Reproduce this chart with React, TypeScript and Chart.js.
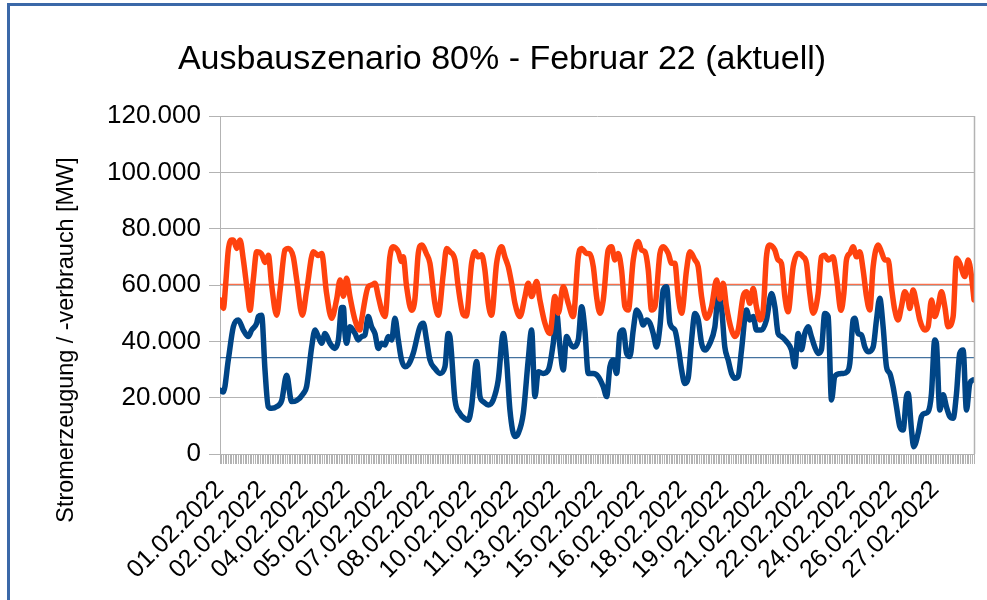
import React, { useEffect, useRef } from 'react';
import { Chart, registerables } from 'chart.js';

Chart.register(...registerables);

const CHART_TITLE = 'Ausbauszenario 80% - Februar 22 (aktuell)';
const Y_AXIS_TITLE = 'Stromerzeugung / -verbrauch [MW]';

// x axis: hours since 01.02.2022 00:00 (28 days)
const PERIOD_START_HOUR = 0;
const PERIOD_END_HOUR = 672;
const X_LABEL_STEP_HOURS = 37.5;
const X_MINOR_STEP_HOURS = 1.5;
const xTickLabels = [
  '01.02.2022', '02.02.2022', '04.02.2022', '05.02.2022', '07.02.2022', '08.02.2022',
  '10.02.2022', '11.02.2022', '13.02.2022', '15.02.2022', '16.02.2022', '18.02.2022',
  '19.02.2022', '21.02.2022', '22.02.2022', '24.02.2022', '26.02.2022', '27.02.2022',
];

// y axis
const Y_MIN = 0;
const Y_MAX = 120000;
const Y_STEP = 20000;

// Stromerzeugung (blue)
const generationHours = [
  0, 3, 7.4, 11.9, 16.3, 20.8, 25.2, 28.2, 32.7, 34.2, 37.1, 40.1, 43, 46, 50.5, 55, 59.4, 63.8, 68.3, 74.3,
  77.2, 81.7, 84.7, 87.6, 90.6, 93.6, 98, 102.5, 105.5, 108.4, 110, 111.4, 112.8, 115.8, 120.3, 123.2, 126.2, 129.2, 132.1, 135.1,
  138.1, 141.1, 144, 147, 150, 153, 155.9, 158.9, 161.8, 164.8, 167.8, 172.2, 178.2, 181.2, 184.1, 187.1, 191.5, 196, 200.5, 203.4,
  204.9, 209.4, 213.8, 218.3, 221.3, 224.2, 228.7, 231.7, 234.6, 239.1, 243.5, 248, 252.5, 255.4, 258.4, 262.9, 265.8, 270.3, 274.7, 277.7,
  280.7, 283.6, 288.1, 292.6, 297, 300, 303, 305.9, 308.9, 311.9, 314.8, 319.3, 322.3, 325.2, 328.2, 332.7, 337.1, 341.6, 344.6, 347.5,
  350.5, 353.5, 356.4, 359.4, 362.4, 365.3, 368.3, 371.3, 374.3, 377.2, 380.2, 383.2, 386.1, 389.1, 392.1, 395, 398, 401, 405.4, 408.4,
  411.4, 414.3, 417.3, 420.3, 423.3, 426.2, 429.2, 432.2, 436.6, 441, 444, 446.9, 449.9, 452.9, 455.9, 458.8, 461.8, 464.8, 469.2, 472.2,
  475.2, 478.1, 482.6, 487, 491.5, 494.5, 497.4, 500.4, 504.9, 509.3, 512.3, 515.3, 518.2, 521.2, 524.2, 527.1, 530.1, 533.1, 536, 539,
  542, 545, 547.9, 552.4, 555.4, 558.3, 561.3, 564.3, 565.8, 568.7, 571.7, 574.7, 577.6, 582.1, 585.1, 588, 591, 594, 597, 599.9,
  602.9, 605.9, 608.8, 611.8, 613.3, 616.3, 618.3, 622.2, 625.2, 628.1, 631.1, 634.1, 637, 638.5, 641.5, 644.5, 647.4, 650.4, 653.4, 656.4,
  659.3, 662.3, 665.3, 668.2, 671.2,
];
const generationMW = [
  22700, 22000, 33400, 45200, 47600, 44000, 41700, 44000, 46400, 48800, 49300, 29800, 16800, 16200, 16800, 19000, 28000, 18600, 19000, 21500,
  24000, 38000, 44000, 41700, 39300, 42800, 39300, 37500, 40500, 52000, 52000, 42800, 39300, 45200, 42800, 40500, 41700, 42300, 48800, 45200,
  42800, 37500, 39300, 38700, 41700, 40500, 48200, 40500, 33400, 31000, 31600, 35700, 45200, 46400, 40500, 33400, 30400, 28600, 31000, 42800,
  41700, 19200, 14400, 12500, 12000, 16800, 32800, 20400, 18600, 17400, 19200, 26300, 42800, 33400, 15600, 6200, 7300, 14400, 33400, 44000,
  20400, 29200, 28600, 29800, 39300, 50000, 38000, 29800, 41700, 39300, 38000, 40500, 52300, 44000, 28600, 28600, 27500, 23900, 20400, 31000,
  33400, 28600, 42800, 44000, 35700, 34600, 44000, 51100, 49300, 45800, 47600, 46400, 42800, 38000, 45200, 58200, 59400, 46400, 44000, 38000,
  29800, 25000, 27000, 40500, 49900, 47600, 39300, 36900, 39300, 45000, 55500, 52300, 38000, 33400, 28600, 26900, 27500, 36900, 51100, 47600,
  48800, 44000, 44000, 47600, 57000, 52300, 42800, 41700, 39900, 36900, 31000, 42800, 37000, 42800, 45200, 41700, 38000, 35700, 37000, 49900,
  48800, 19200, 27500, 28500, 28600, 29000, 32200, 47600, 48200, 42800, 42300, 38000, 36300, 38000, 47600, 55300, 45200, 31000, 28600, 23900,
  16800, 9700, 8500, 20400, 21500, 8500, 2600, 7300, 13300, 14400, 15000, 21500, 40500, 39300, 15600, 21000, 16800, 13300, 12700, 21500,
  35700, 36900, 15600, 25000, 26300,
];

// Stromverbrauch (orange)
const consumptionHours = [
  0, 3, 5, 7.4, 10.4, 11.9, 14.9, 17.8, 20.8, 24.4, 26.7, 29.7, 32.7, 37.1, 40.1, 43.1, 46, 50.5, 53.5, 57.9,
  60.9, 65.3, 68.3, 73.4, 77.2, 83.2, 87.6, 90.6, 95, 99.5, 104, 107, 110, 112.8, 115.8, 120.3, 124.7, 126.2, 132.1, 135.1,
  138.1, 141.1, 144, 147, 151.4, 154.4, 158.9, 161.8, 163.3, 166.3, 170.8, 173.7, 176.7, 179.7, 184.1, 187.1, 191.5, 194.5, 199, 202,
  204.9, 209.4, 212.3, 216.8, 219.5, 224.2, 227.2, 230.2, 233.2, 236.1, 239.1, 242, 246.5, 251, 253.9, 256.9, 259.9, 262.9, 267.3, 271.8,
  274.7, 277.7, 282.2, 285.1, 289.6, 294, 298.5, 301.5, 305.9, 310.4, 314.8, 319.3, 322.3, 326.7, 329.7, 332.7, 335.6, 338.6, 341.6, 346,
  349, 352, 354.9, 357.9, 360.9, 363.9, 368.3, 372.8, 375.7, 378.7, 381.7, 384.6, 387.6, 392.1, 395, 399.5, 402.5, 405.4, 408.4, 411.4,
  415.8, 418.8, 423.3, 426.2, 429.2, 433.6, 438.1, 442.6, 445.5, 448.4, 451.4, 455.9, 458.8, 461.8, 466.2, 469.2, 472.2, 475.2, 478.1, 481.1,
  484.1, 487, 490, 494.5, 497.4, 500.4, 503.4, 506.3, 510.8, 515.3, 519.7, 522.7, 525.6, 528.6, 533.1, 536, 539, 542, 546.4, 549.4,
  553.5, 556, 558.3, 561.3, 564.3, 567.3, 570.2, 573.2, 576.2, 579.1, 582.1, 586.6, 589.5, 592.5, 595.5, 598.4, 601.4, 604.4, 607.3, 610.3,
  613.3, 614.8, 617.7, 620.7, 623.7, 628.1, 631.1, 634.1, 637, 640, 643, 646, 648.9, 653.4, 656.4, 659.3, 663.8, 666.8, 669.8, 672,
];
const consumptionMW = [
  54700, 51700, 60000, 72400, 76000, 76000, 73000, 76000, 69000, 57600, 51000, 62000, 71800, 71000, 68000, 70600, 60000, 49300, 58000, 72400,
  73000, 70000, 62000, 49300, 58000, 71800, 70500, 71200, 57000, 48200, 55000, 61800, 56000, 62400, 55900, 47600, 44000, 47600, 59400, 60000,
  60600, 55900, 51100, 48800, 70000, 73600, 71800, 68300, 70000, 59400, 51000, 55000, 71200, 74200, 71000, 67700, 53500, 49300, 64000, 73000,
  71800, 68900, 59400, 49500, 49000, 67700, 71800, 70000, 70700, 65300, 53500, 49300, 67700, 73600, 70000, 66500, 60600, 53500, 48800, 55900,
  60600, 55900, 61200, 54700, 46400, 42800, 55900, 50000, 59400, 53500, 48800, 70000, 73000, 71200, 71000, 66500, 55900, 50000, 54700, 72400,
  73600, 68900, 71200, 65300, 52300, 51100, 68900, 75400, 72400, 71800, 65300, 51100, 52300, 71200, 73600, 71200, 67700, 67700, 55900, 50000,
  65300, 71800, 68900, 66500, 55900, 48200, 52300, 61800, 55000, 60600, 52300, 44000, 41700, 44000, 55900, 57600, 53500, 58800, 52300, 47600,
  51000, 70000, 74200, 72400, 68900, 67700, 55900, 50500, 66500, 71200, 70000, 67700, 57000, 50000, 57000, 70000, 70600, 68900, 70000, 63000,
  51000, 57000, 68900, 71200, 73600, 70000, 71800, 65300, 55900, 51100, 66500, 74200, 71800, 68900, 68900, 59400, 51100, 47600, 52300, 57600,
  54700, 51700, 58200, 53500, 47600, 44000, 45200, 54700, 48800, 52300, 57600, 52300, 45200, 48800, 69500, 67700, 63000, 68900, 63000, 54700,
];

// Mittelwerte
const generationMeanMW = 34200;
const consumptionMeanMW = 60200;

const formatThousands = (v: number) => String(Math.round(v)).replace(/\B(?=(\d{3})+(?!\d))/g, '.');

const FONT = '"Liberation Sans", Arial, sans-serif';

const yTitlePlugin = {
  id: 'yTitleAndWall',
  afterDraw(chart: any) {
    const { ctx, chartArea } = chart;
    ctx.save();
    ctx.strokeStyle = '#b3b3b3';
    ctx.lineWidth = 1.5;
    ctx.beginPath();
    ctx.moveTo(chartArea.right + 0.5, chartArea.top);
    ctx.lineTo(chartArea.right + 0.5, chartArea.bottom);
    ctx.stroke();
    ctx.translate(67, 340);
    ctx.rotate(-Math.PI / 2);
    ctx.font = `23.4px ${FONT}`;
    ctx.fillStyle = '#000';
    ctx.textAlign = 'center';
    ctx.textBaseline = 'middle';
    ctx.fillText(Y_AXIS_TITLE, 0, 0);
    ctx.restore();
  },
};

export default function App() {
  const canvasRef = useRef<HTMLCanvasElement | null>(null);

  useEffect(() => {
    if (!canvasRef.current) return;
    const toPoints = (hours: number[], values: number[]) => hours.map((h, i) => ({ x: h, y: values[i] }));
    const meanLine = (v: number) => [PERIOD_START_HOUR, PERIOD_END_HOUR].map((h) => ({ x: h, y: v }));

    const chart = new Chart(canvasRef.current, {
      type: 'line',
      data: {
        datasets: [
          {
            label: 'Stromverbrauch',
            data: toPoints(consumptionHours, consumptionMW),
            borderColor: '#ff420e',
            backgroundColor: '#ff420e',
            borderWidth: 5.5,
            pointRadius: 0,
            cubicInterpolationMode: 'monotone',
            borderJoinStyle: 'round',
            borderCapStyle: 'round',
            order: 0,
          },
          {
            label: 'Stromerzeugung',
            data: toPoints(generationHours, generationMW),
            borderColor: '#004586',
            backgroundColor: '#004586',
            borderWidth: 5.5,
            pointRadius: 0,
            cubicInterpolationMode: 'monotone',
            borderJoinStyle: 'round',
            borderCapStyle: 'round',
            order: 1,
          },
          {
            label: 'Mittelwert Verbrauch',
            data: meanLine(consumptionMeanMW),
            borderColor: '#f9704c',
            borderWidth: 1.2,
            pointRadius: 0,
            order: 2,
          },
          {
            label: 'Mittelwert Erzeugung',
            data: meanLine(generationMeanMW),
            borderColor: '#44729f',
            borderWidth: 1.2,
            pointRadius: 0,
            order: 3,
          },
        ] as any,
      },
      options: {
        responsive: false,
        animation: false,
        devicePixelRatio: 1,
        layout: { padding: { left: 30, right: 13, top: 0, bottom: 0 } },
        plugins: {
          legend: { display: false },
          tooltip: { enabled: false },
          title: {
            display: true,
            text: CHART_TITLE,
            color: '#000',
            font: { family: FONT, size: 34, weight: 'normal' },
            padding: { top: 39, bottom: 36.2 },
          },
        },
        scales: {
          x: {
            type: 'linear',
            min: PERIOD_START_HOUR,
            max: PERIOD_END_HOUR,
            afterFit: (scale: any) => {
              scale.height = 146;
              scale.paddingLeft = 0;
              scale.paddingRight = 0;
            },
            grid: { display: true, drawOnChartArea: false, drawTicks: true, tickLength: 10, color: '#b3b3b3', lineWidth: 1 },
            border: { display: true, color: '#b3b3b3' },
            ticks: {
              stepSize: X_MINOR_STEP_HOURS,
              autoSkip: false,
              minRotation: 45,
              maxRotation: 45,
              padding: 11,
              color: '#000',
              font: { family: FONT, size: 25 },
              callback: (value: any) => {
                const k = Number(value) / X_LABEL_STEP_HOURS;
                const r = Math.round(k);
                return Math.abs(k - r) < 1e-6 && r < xTickLabels.length ? xTickLabels[r] : '';
              },
            },
          },
          y: {
            min: Y_MIN,
            max: Y_MAX,
            afterFit: (scale: any) => { scale.width = 190; },
            grid: { color: '#b3b3b3', tickLength: 11, lineWidth: 1 },
            border: { display: true, color: '#b3b3b3' },
            ticks: {
              stepSize: Y_STEP,
              padding: 8,
              color: '#000',
              font: { family: FONT, size: 26 },
              callback: (value: any) => formatThousands(Number(value)),
            },
          },
        },
      },
      plugins: [yTitlePlugin],
    } as any);
    return () => chart.destroy();
  }, []);

  return (
    <div style={{ position: 'absolute', left: 0, top: 0, width: 987, height: 600, overflow: 'hidden', background: '#fff' }}>
      <canvas ref={canvasRef} width={987} height={600} style={{ position: 'absolute', left: 0, top: 0, display: 'block' }} />
      <div
        style={{
          position: 'absolute', left: 7, top: 3, width: 1100, height: 800,
          border: '3px solid #3b68a8', boxSizing: 'border-box', pointerEvents: 'none',
        }}
      />
    </div>
  );
}
